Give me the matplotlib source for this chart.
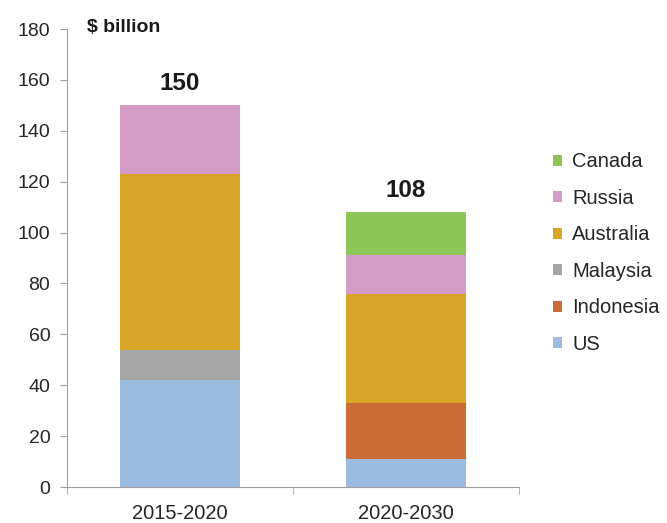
import numpy as np
import matplotlib.pyplot as plt
from matplotlib.patches import Patch

plt.rcParams['font.family'] = ['Liberation Sans', 'DejaVu Sans']

# data ($ billion)
periodos = ['2015-2020', '2020-2030']
paises = ['US', 'Indonesia', 'Malaysia', 'Australia', 'Russia', 'Canada']
us = [42, 11]
indonesia = [0, 22]
malaysia = [12, 0]
australia = [69, 43]
russia = [27, 15]
canada = [0, 17]
totales = [150, 108]

colores = ['#9BBBE0', '#C86B35', '#A6A6A6', '#D9A526', '#D39BC5', '#8DC558']
series = [us, indonesia, malaysia, australia, russia, canada]

fig = plt.figure(figsize=(6.67, 5.23), dpi=100)
ax = fig.add_axes([0.1004, 0.0688, 0.6776, 0.8757])

x = np.arange(len(periodos))
base = np.zeros(len(periodos))
for nombre, valores, color in zip(paises, series, colores):
    ax.bar(x, valores, width=0.53, bottom=base, color=color, label=nombre)
    base += np.array(valores)

for xi, tot in zip(x, totales):
    ax.text(xi, tot + 8.5, str(tot), ha='center', va='center',
            fontsize=17.5, fontweight='bold', color='#1a1a1a')

ax.set_xlim(-0.5, 1.5)
ax.set_ylim(0, 180)
ax.set_yticks(np.arange(0, 181, 20))
ax.set_xticks(x)
ax.set_xticklabels(periodos)
ax.set_xticks([-0.5, 0.5, 1.5], minor=True)
ax.tick_params(axis='x', which='major', length=0, pad=12, labelsize=14.5, colors='#262626')
ax.tick_params(axis='x', which='minor', length=5, color='#a0a0a0')
ax.tick_params(axis='y', length=5, color='#a0a0a0', labelsize=14, labelcolor='#262626', pad=7)

for lado in ['top', 'right']:
    ax.spines[lado].set_visible(False)
for lado in ['left', 'bottom']:
    ax.spines[lado].set_color('#a0a0a0')

ax.text(0.044, 180.7, r'\$ billion', fontsize=14, fontweight='bold',
        va='center', ha='left', color='#1a1a1a',
        transform=ax.get_yaxis_transform())

handles = [Patch(facecolor=c, label=p) for p, c in zip(paises, colores)][::-1]
fig.legend(handles=handles, loc='center left', bbox_to_anchor=(0.829, 0.516),
           frameon=False, fontsize=14.5, handlelength=0.45, handleheight=0.45,
           handletextpad=0.5, labelspacing=0.87, borderpad=0, borderaxespad=0,
           labelcolor='#262626')

fig.savefig('out.png', dpi=100)
